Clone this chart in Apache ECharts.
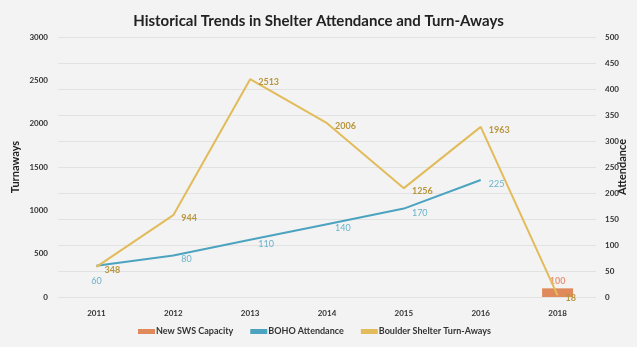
<!DOCTYPE html>
<html><head><meta charset="utf-8">
<script src="https://cdn.jsdelivr.net/npm/echarts@6/dist/echarts.min.js"></script>
<style>html,body{margin:0;padding:0;background:#F3F3F3}#c{width:637px;height:347px}</style>
</head><body><div id="c"></div>
<script>
const categories = ['2011','2012','2013','2014','2015','2016','2018'];
const capacity = [null,null,null,null,null,null,100];
const attendance = [60,80,110,140,170,225,null];
const turnaways = [348,944,2513,2006,1256,1963,18];

const chart = echarts.init(document.getElementById('c'));
const F = 'Lato';
const plain = v => String(v);
const attData = attendance.map((v,i) => i===0 ? {value:v,label:{position:'bottom',offset:[0,6]}} : v);
chart.setOption({
  backgroundColor:'#F3F3F3',
  animation:false,
  title:{text:'Historical Trends in Shelter Attendance and Turn-Aways',left:'center',top:9,
    textStyle:{fontFamily:F,fontSize:15,fontWeight:'bold',color:'#222'}},
  grid:{left:58,right:41,top:37,bottom:50,containLabel:false,outerBoundsMode:'none'},
  legend:{bottom:6,left:133,itemGap:17,itemWidth:17,itemHeight:5,
    textStyle:{fontFamily:F,fontSize:9,fontWeight:'bold',color:'#333',padding:[0,0,0,-4]},
    data:[{name:'New SWS Capacity',icon:'rect'},{name:'BOHO Attendance',icon:'rect'},{name:'Boulder Shelter Turn-Aways',icon:'rect'}]},
  xAxis:{type:'category',data:categories,axisLine:{show:false},axisTick:{show:false},
    axisLabel:{fontFamily:F,fontSize:8,fontWeight:'bold',color:'#333',margin:12}},
  yAxis:[
    {type:'value',min:0,max:3000,interval:500,name:'Turnaways',nameLocation:'middle',nameGap:37,nameMoveOverlap:false,
      nameTextStyle:{fontFamily:F,fontSize:11,fontWeight:'bold',color:'#222'},
      axisLabel:{fontFamily:F,fontSize:8,fontWeight:'bold',color:'#333',margin:10,formatter:plain},splitLine:{show:false}},
    {type:'value',min:0,max:500,interval:50,name:'Attendance',nameLocation:'middle',nameGap:21,nameMoveOverlap:false,
      nameTextStyle:{fontFamily:F,fontSize:11,fontWeight:'bold',color:'#222'},
      axisLabel:{fontFamily:F,fontSize:8,fontWeight:'bold',color:'#333',margin:9,formatter:plain},
      splitLine:{lineStyle:{color:'#E2E2E2'}}}
  ],
  series:[
    {name:'New SWS Capacity',type:'bar',yAxisIndex:0,data:capacity,barWidth:31,
      itemStyle:{color:'#E08A5C'},
      label:{show:true,position:'top',color:'#E8967A',fontFamily:F,fontSize:9,fontWeight:'bold',distance:3}},
    {name:'BOHO Attendance',type:'line',yAxisIndex:1,data:attData,symbol:'circle',symbolSize:0.1,showSymbol:true,
      lineStyle:{color:'#4BA3BF',width:2},itemStyle:{color:'#4BA3BF'},
      label:{show:true,position:'right',offset:[3,4],color:'#6BB3CC',fontFamily:F,fontSize:9}},
    {name:'Boulder Shelter Turn-Aways',type:'line',yAxisIndex:0,data:turnaways,symbol:'circle',symbolSize:0.1,showSymbol:true,
      lineStyle:{color:'#E2BC5A',width:2},itemStyle:{color:'#E2BC5A'},
      label:{show:true,position:'right',offset:[3,3],color:'#B8963C',fontFamily:F,fontSize:9,fontWeight:'bold'}}
  ]
});
</script></body></html>
